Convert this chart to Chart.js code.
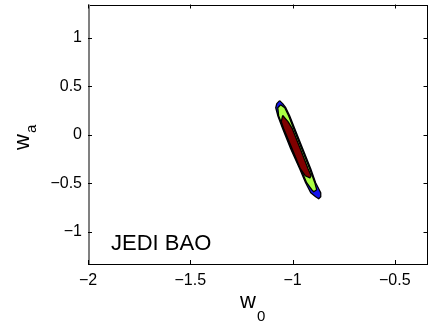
<!DOCTYPE html>
<html><head><meta charset="utf-8">
<script src="https://cdn.jsdelivr.net/npm/chart.js@4/dist/chart.umd.min.js"></script>
<style>html,body{margin:0;padding:0;background:#fff}canvas{display:block}</style>
</head><body>
<canvas id="c" width="436" height="325"></canvas>
<script>
// ---- data ----
const xTicks = [-2, -1.5, -1, -0.5];
const yTicks = [-1, -0.5, 0, 0.5, 1];
const xRange = [-2, -0.34];
const yRange = [-1.333, 1.342];
const panelLabel = 'JEDI BAO';

// contour outlines (w0, wa)
const outerW0 = [-1.063,-1.048,-1.033,-1.014,-0.989,-0.950,-0.911,-0.887,-0.862,-0.862,-0.872,-0.887,-0.911,-0.936,-0.965,-1.009,-1.048,-1.072,-1.082,-1.077,-1.063];
const outerWa = [ 0.351, 0.320, 0.278, 0.196, 0.062,-0.144,-0.351,-0.495,-0.598,-0.639,-0.660,-0.639,-0.598,-0.495,-0.351,-0.144, 0.062, 0.196, 0.278, 0.320, 0.351];
const midW0 = [-1.058,-1.038,-1.019,-0.994,-0.955,-0.916,-0.891,-0.882,-0.896,-0.906,-0.931,-0.960,-1.004,-1.043,-1.068,-1.072,-1.058];
const midWa = [ 0.309, 0.278, 0.196, 0.062,-0.144,-0.351,-0.495,-0.567,-0.588,-0.567,-0.495,-0.351,-0.144, 0.062, 0.196, 0.278, 0.309];
const innerW0 = [-1.048,-1.022,-1.001,-0.962,-0.924,-0.909,-0.915,-0.938,-0.962,-1.002,-1.043,-1.055,-1.048];
const innerWa = [ 0.198, 0.134, 0.062,-0.144,-0.351,-0.423,-0.445,-0.423,-0.351,-0.144, 0.062, 0.134, 0.198];

const FONT = '"Liberation Sans", Arial, Helvetica, sans-serif';
const pts = (xs, ys) => xs.map((x, i) => ({x, y: ys[i]}));
const fmt = v => (v < 0 ? '\u2212' + String(Math.abs(v)) : String(v));

function mk(label, xs, ys, color, order) {
  return {label, data: pts(xs, ys), showLine: true, fill: 'shape',
    backgroundColor: color, borderColor: '#000', borderWidth: 1.3,
    borderJoinStyle: 'round', pointRadius: 0, tension: 0, order};
}

const frame = {
  id: 'frame',
  afterDraw(chart) {
    const ctx = chart.ctx, a = chart.chartArea;
    const xs = chart.scales.x, ys = chart.scales.y;
    ctx.save();
    ctx.strokeStyle = '#000'; ctx.lineWidth = 1;
    ctx.strokeRect(Math.round(a.left) + 0.5, Math.round(a.top) + 0.5,
      Math.round(a.right - a.left) - 1, Math.round(a.bottom - a.top) - 1);
    ctx.strokeStyle = '#808080'; ctx.lineWidth = 2;
    ctx.beginPath(); ctx.moveTo(Math.round(a.left) + 1, a.top); ctx.lineTo(Math.round(a.left) + 1, a.bottom); ctx.stroke();
    ctx.strokeStyle = '#000'; ctx.lineWidth = 1;
    ctx.beginPath();
    xTicks.forEach(v => {
      const p = Math.round(xs.getPixelForValue(v)) + 0.5;
      ctx.moveTo(p, a.bottom); ctx.lineTo(p, a.bottom - 4);
      ctx.moveTo(p, a.top); ctx.lineTo(p, a.top + 4);
    });
    yTicks.forEach(v => {
      const p = Math.round(ys.getPixelForValue(v)) + 0.5;
      ctx.moveTo(a.left, p); ctx.lineTo(a.left + 4, p);
      ctx.moveTo(a.right, p); ctx.lineTo(a.right - 4, p);
    });
    ctx.stroke();
    // axis titles
    ctx.fillStyle = '#000';
    ctx.textBaseline = 'alphabetic'; ctx.textAlign = 'left';
    ctx.font = '22px ' + FONT;
    ctx.fillText('w', 240, 308);
    ctx.font = '15px ' + FONT;
    ctx.fillText('0', 257, 321);
    ctx.save();
    ctx.translate(29, 150); ctx.rotate(-Math.PI / 2);
    ctx.font = '22px ' + FONT;
    ctx.fillText('w', 0, 0);
    const ww = ctx.measureText('w').width;
    ctx.font = '15px ' + FONT;
    ctx.fillText('a', ww + 1, 7);
    ctx.restore();
    // panel label
    ctx.font = '22px ' + FONT;
    ctx.fillText(panelLabel, 111, 250);
    ctx.restore();
  }
};

new Chart(document.getElementById('c'), {
  type: 'scatter',
  data: {datasets: [
    mk('inner', innerW0, innerWa, '#800000', 1),
    mk('middle', midW0, midWa, '#aaff44', 2),
    mk('outer', outerW0, outerWa, '#1414ee', 3)
  ]},
  options: {
    responsive: false, animation: false, devicePixelRatio: 1,
    layout: {padding: {left: 0, right: 8.5, top: 4.5, bottom: 0}},
    plugins: {legend: {display: false}, tooltip: {enabled: false}},
    scales: {
      x: {type: 'linear', min: xRange[0], max: xRange[1],
        afterBuildTicks: s => { s.ticks = xTicks.map(v => ({value: v})); },
        afterFit: s => { s.height = 61; s.paddingLeft = 0; s.paddingRight = 0; },
        grid: {display: false, drawTicks: false}, border: {display: false},
        ticks: {callback: fmt, autoSkip: false, maxRotation: 0, padding: 7,
          color: '#000', font: {family: FONT, size: 16}}},
      y: {type: 'linear', min: yRange[0], max: yRange[1],
        afterBuildTicks: s => { s.ticks = yTicks.map(v => ({value: v})); },
        afterFit: s => { s.width = 88; s.paddingTop = 0; s.paddingBottom = 0; },
        grid: {display: false, drawTicks: false}, border: {display: false},
        ticks: {callback: fmt, autoSkip: false, padding: 6,
          color: '#000', font: {family: FONT, size: 16}}}
    }
  },
  plugins: [frame]
});
</script>
</body></html>
